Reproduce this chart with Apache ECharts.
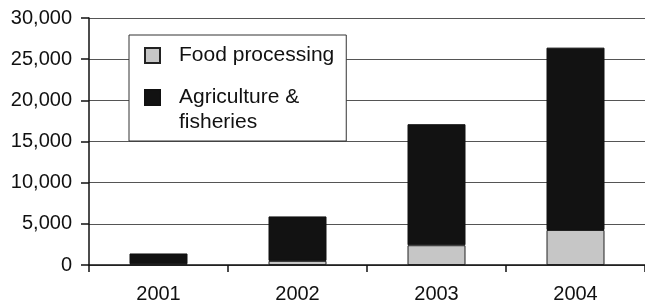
<!DOCTYPE html>
<html>
<head>
<meta charset="utf-8">
<script src="https://cdn.jsdelivr.net/npm/echarts@6/dist/echarts.min.js"></script>
<style>
	html, body { margin: 0; padding: 0; background: #fff; }
	#chart { width: 645px; height: 304px; }
</style>
</head>
<body>
<div id="chart"></div>
<script>
	//数据
	var years = ['2001', '2002', '2003', '2004'];
	var foodProcessing = [100, 500, 2400, 4250];
	var agriFisheries = [1300, 5400, 14700, 22150];
	var yTicks = [0, 5000, 10000, 15000, 20000, 25000, 30000];

	var FONT = "'Liberation Sans', Arial, sans-serif";

	function fmt(v) {
		return String(v).replace(/\B(?=(\d{3})+(?!\d))/g, ',');
	}

	var chart = echarts.init(document.getElementById('chart'), null, {renderer: 'canvas'});

	var option = {
		animation: false,
		backgroundColor: '#fff',
		grid: {
			left: 89,
			top: 18,
			width: 564,
			bottom: 39
		},
		legend: {
			orient: 'vertical',
			left: 129,
			top: 35,
			padding: [10, 12, 8, 15],
			itemGap: -4,
			itemWidth: 15,
			itemHeight: 15,
			icon: 'rect',
			backgroundColor: '#fff',
			borderColor: '#333',
			borderWidth: 1,
			borderRadius: 0,
			data: ['Food processing', 'Agriculture & fisheries'],
			formatter: function (name) {
				return name == 'Agriculture & fisheries' ? '{b|Agriculture &\nfisheries}' : '{a|' + name + '}';
			},
			textStyle: {
				fontFamily: FONT,
				fontSize: 21,
				color: '#111',
				rich: {
					a: { fontFamily: FONT, fontSize: 21, lineHeight: 25, padding: [0, 0, 0, 14] },
					b: { fontFamily: FONT, fontSize: 21, lineHeight: 25, padding: [25, 0, 0, 14] }
				}
			}
		},
		xAxis: {
			type: 'category',
			data: years,
			boundaryGap: true,
			axisLine: { lineStyle: { color: '#111', width: 1.5 } },
			axisTick: { show: true, length: 7, alignWithLabel: false, lineStyle: { color: '#111', width: 1.5 } },
			axisLabel: { margin: 19, fontFamily: FONT, fontSize: 20, color: '#111' },
			splitLine: { show: false }
		},
		yAxis: {
			type: 'value',
			min: 0,
			max: 30000,
			interval: 5000,
			axisLine: { show: true, lineStyle: { color: '#111', width: 1.5 } },
			axisTick: { show: true, length: 8, lineStyle: { color: '#111', width: 1.5 } },
			axisLabel: {
				margin: 17,
				fontFamily: FONT,
				fontSize: 20,
				color: '#111',
				formatter: function (v) { return yTicks.indexOf(v) >= 0 ? fmt(v) : ''; }
			},
			splitLine: { show: true, lineStyle: { color: '#555', width: 1 } }
		},
		series: [{
			name: 'Food processing',
			type: 'bar',
			stack: 'total',
			barWidth: 58,
			data: foodProcessing,
			itemStyle: { color: '#c6c6c6', borderColor: '#222', borderWidth: 1 }
		}, {
			name: 'Agriculture & fisheries',
			type: 'bar',
			stack: 'total',
			barWidth: 58,
			data: agriFisheries,
			itemStyle: { color: '#121212', borderColor: '#111', borderWidth: 1 }
		}]
	};

	chart.setOption(option);
</script>
</body>
</html>
